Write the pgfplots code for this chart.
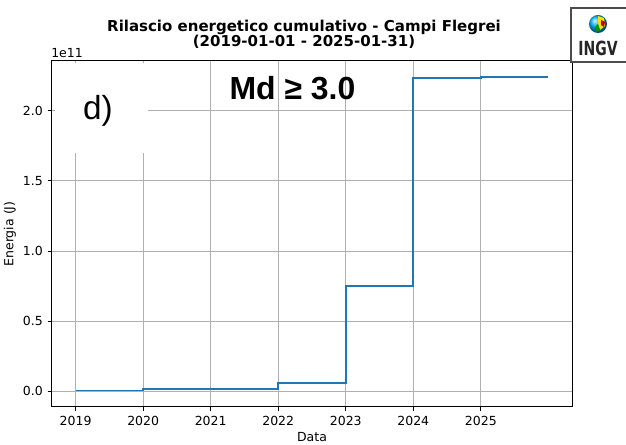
\documentclass[border=0pt]{standalone}
\usepackage{fontspec}
\setmainfont{DejaVu Sans}
\newfontfamily\libsans{Liberation Sans}
\usepackage{pgfplots}
\pgfplotsset{compat=1.18}
\definecolor{mplblue}{HTML}{1F77B4}
\definecolor{gridgray}{HTML}{B0B0B0}
\begin{document}
\begin{tikzpicture}
\useasboundingbox (0,0) rectangle (450.72pt,320.4pt);
\begin{axis}[
  scale only axis, width=374.4pt, height=249.12pt,
  at={(37.44pt,27.36pt)}, anchor=south west,
  xmin=2018.65, xmax=2026.35, ymin=-0.1122, ymax=2.3556,
  xtick={2019,2020,2021,2022,2023,2024,2025},
  xticklabels={2019,2020,2021,2022,2023,2024,2025},
  ytick={0,0.5,1,1.5,2}, yticklabels={0.0,0.5,1.0,1.5,2.0},
  grid=major, major grid style={gridgray, line width=0.72pt},
  axis line style={line width=0.72pt},
  tick align=outside, major tick length=3.15pt,
  tick style={black, line width=0.72pt},
  xtick pos=left, ytick pos=left,
  ticklabel style={font=\fontsize{9}{10}\selectfont},
  /pgf/number format/assume math mode=true,
  xlabel={Data}, ylabel={Energia (J)},
  label style={font=\fontsize{9}{10}\selectfont},
  xlabel style={yshift=2.2pt},
  ylabel style={yshift=-2pt},
]
\addplot[const plot, mplblue, line width=1.35pt] coordinates {
  (2019,0.005) (2020,0.014) (2021,0.015) (2022,0.058)
  (2023,0.748) (2024,2.237) (2025,2.244) (2026,2.244)
};
\end{axis}
\begin{scope}[x=0.72pt,y=-0.72pt,yshift=320.4pt]
  \fill[white] (55,63) rectangle (148,153);
  \node[font=\libsans\fontsize{24}{24}\selectfont, anchor=base] at (98,120) {d)};
  \node[font=\libsans\bfseries\fontsize{23}{23}\selectfont, anchor=base] at (292.5,100) {Md ≥ 3.0};
  \node[font=\bfseries\fontsize{10.8}{12}\selectfont, anchor=base] at (304,31.5) {Rilascio energetico cumulativo - Campi Flegrei};
  \node[font=\bfseries\fontsize{10.8}{12}\selectfont, anchor=base] at (304,46.5) {(2019-01-01 - 2025-01-31)};
  \node[font=\fontsize{9}{10}\selectfont, anchor=base west, inner sep=0pt] at (51,58) {1e11};
  \draw[fill=white, draw=black!70, line width=0.8pt] (571,8) rectangle (640,62);
  \shade[ball color=cyan!70!blue] (598,24) circle (9);
  \fill[yellow!80!orange] (598,16) -- (604,18) -- (605,26) -- (600,30) -- (598,24) -- cycle;
  \fill[red!80!black] (601,20) -- (605,22) -- (604,27) -- (601,25) -- cycle;
  \fill[green!60!black] (598,24) -- (600,30) -- (597,32) -- (595,27) -- cycle;
  \node[font=\bfseries\fontsize{14}{14}\selectfont, xscale=0.72, anchor=base, text=black!85] at (598,56) {INGV};
\end{scope}
\end{tikzpicture}
\end{document}
